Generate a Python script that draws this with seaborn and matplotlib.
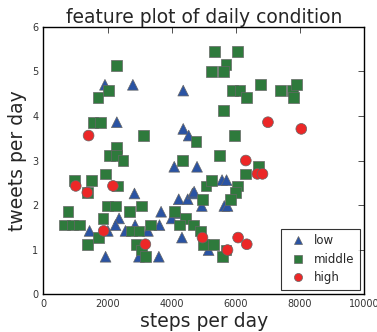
import pandas as pd
import numpy as np
import matplotlib
matplotlib.use('Agg')
import matplotlib.pyplot as plt
import seaborn as sns

# points, one pair of lists per condition
low_steps = [1920, 2790, 4360, 2290, 4360, 4530, 4080, 4790, 2840, 4220, 4500, 4650,
             4700, 5570, 5710, 4940, 5640, 5740, 3670, 4190, 2360, 4000, 2250, 2860,
             3620, 1440, 2010, 2560, 3260, 4320, 5150, 1940, 2980, 3600]
low_tweets = [4.70, 4.70, 4.57, 3.86, 3.71, 3.56, 2.86, 2.86, 2.26, 2.13, 2.13, 2.26,
              2.30, 2.56, 2.56, 1.98, 1.98, 1.98, 1.85, 1.82, 1.70, 1.70, 1.55, 1.55,
              1.55, 1.42, 1.42, 1.42, 1.42, 1.27, 0.99, 0.84, 0.84, 0.84]

middle_steps = [5330, 6050, 2290, 5690, 5250, 5620, 2040, 5900, 6130, 6780, 7380, 7760,
                7890, 7790, 6340, 1700, 5620, 1550, 1790, 3130, 4760, 5950, 2270, 2070,
                2290, 2480, 5480, 6700, 4340, 6310, 960, 1500, 1940, 1370, 2320, 5070,
                5250, 6050, 6000, 5840, 4960, 1990, 2250, 3050, 770, 2690, 4080, 1860,
                4430, 670, 900, 1130, 3340, 4240, 4670, 2740, 2980, 4890, 1730, 4980,
                5300, 1370, 2890, 3050, 5690, 3180, 5580]
middle_tweets = [5.44, 5.44, 5.13, 5.15, 5.00, 5.00, 4.57, 4.57, 4.57, 4.70, 4.57, 4.57,
                 4.70, 4.42, 4.42, 4.42, 4.13, 3.86, 3.86, 3.56, 3.42, 3.56, 3.29, 3.12,
                 3.12, 3.00, 3.12, 2.86, 3.00, 2.70, 2.56, 2.56, 2.70, 2.28, 2.43, 2.43,
                 2.56, 2.43, 2.28, 2.13, 2.13, 1.98, 1.98, 1.98, 1.85, 1.85, 1.85, 1.70,
                 1.70, 1.55, 1.55, 1.55, 1.55, 1.55, 1.55, 1.42, 1.42, 1.42, 1.27, 1.12,
                 1.12, 1.12, 1.12, 0.99, 0.99, 0.84, 0.84]

high_steps = [7000, 8040, 1410, 6310, 6670, 6830, 1010, 1370, 2170, 1880, 4960, 6070,
              6340, 3180, 5740]
high_tweets = [3.86, 3.71, 3.56, 3.00, 2.70, 2.70, 2.43, 2.28, 2.43, 1.42, 1.27, 1.27,
               1.12, 1.12, 0.99]

conditions = ['low', 'middle', 'high']

df = pd.concat([
    pd.DataFrame({'steps': low_steps, 'tweets': low_tweets, 'condition': 'low'}),
    pd.DataFrame({'steps': middle_steps, 'tweets': middle_tweets, 'condition': 'middle'}),
    pd.DataFrame({'steps': high_steps, 'tweets': high_tweets, 'condition': 'high'}),
], ignore_index=True)

sns.set_style('white')
plt.rcParams['font.family'] = ['DejaVu Sans']
plt.rcParams['xtick.direction'] = 'in'
plt.rcParams['ytick.direction'] = 'in'

fig = plt.figure(figsize=(3.77, 3.32), dpi=100)
ax = fig.add_axes([0.115, 0.114, 0.851, 0.805])

palette = {'low': '#2a53a3', 'middle': '#2e7a3c', 'high': '#ec2727'}
markers = {'low': '^', 'middle': 's', 'high': 'o'}

sns.scatterplot(data=df, x='steps', y='tweets', hue='condition', style='condition',
                hue_order=conditions, style_order=conditions,
                palette=palette, markers=markers, s=60,
                edgecolor='#666666', linewidth=0.5, ax=ax)

ax.set_xlim(0, 10000)
ax.set_ylim(0, 6)
ax.set_xticks(range(0, 10001, 2000))
ax.set_yticks(range(0, 7))
ax.tick_params(labelsize=7, length=4, width=0.6, top=True, right=True, colors='#333333')
for s in ax.spines.values():
    s.set_color('black')
    s.set_linewidth(1.0)

ax.set_title('feature plot of daily condition', fontsize=13.5, pad=3)
ax.set_xlabel('steps per day', fontsize=13.5, labelpad=2)
ax.set_ylabel('tweets per day', fontsize=13.5, labelpad=4)

leg = ax.legend(loc='lower right', fontsize=8.5, frameon=True, fancybox=False,
                borderpad=0.5, handletextpad=0.3, labelspacing=0.45, markerscale=0.75,
                borderaxespad=0.35)
leg.get_frame().set_edgecolor('black')
leg.get_frame().set_linewidth(0.8)

fig.savefig('out.png', dpi=100)
